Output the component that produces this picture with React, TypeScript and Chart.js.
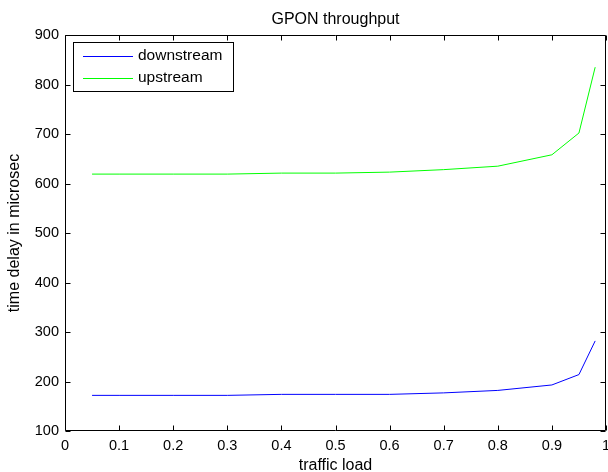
import React, { useEffect, useRef } from "react";
import { Chart, registerables } from "chart.js";

Chart.register(...registerables);

const trafficLoad = [0.05, 0.1, 0.2, 0.3, 0.4, 0.5, 0.6, 0.7, 0.8, 0.9, 0.95, 0.98];
const downstream = [172, 172, 172, 172, 174, 174, 174, 177, 182, 193, 214, 282];
const upstream = [619, 619, 619, 619, 621, 621, 623, 628, 635, 658, 702, 835];
const xTickValues = [0, 0.1, 0.2, 0.3, 0.4, 0.5, 0.6, 0.7, 0.8, 0.9, 1];
const xTickLabels = ["0", "0.1", "0.2", "0.3", "0.4", "0.5", "0.6", "0.7", "0.8", "0.9", "1"];
const yTickValues = [100, 200, 300, 400, 500, 600, 700, 800, 900];
const yTickLabels = ["100", "200", "300", "400", "500", "600", "700", "800", "900"];

const FONT = "'Liberation Sans', Arial, Helvetica, sans-serif";

const matlabAxes = {
  id: "matlabAxes",
  afterDraw(chart: any) {
    const ctx = chart.ctx;
    const a = chart.chartArea;
    const xs = chart.scales.x;
    const ys = chart.scales.y;
    const L = Math.round(a.left) + 0.5;
    const R = Math.round(a.right) - 0.5;
    const T = Math.round(a.top) + 0.5;
    const B = Math.round(a.bottom) - 0.5;
    ctx.save();
    ctx.strokeStyle = "#000";
    ctx.lineWidth = 1;
    ctx.beginPath();
    ctx.rect(L, T, R - L, B - T);
    const tl = 5;
    xTickValues.forEach((v) => {
      const px = Math.round(xs.getPixelForValue(v)) + 0.5;
      ctx.moveTo(px, B);
      ctx.lineTo(px, B - tl);
      ctx.moveTo(px, T);
      ctx.lineTo(px, T + tl);
    });
    yTickValues.forEach((v) => {
      const py = Math.round(ys.getPixelForValue(v)) + 0.5;
      ctx.moveTo(L, py);
      ctx.lineTo(L + tl, py);
      ctx.moveTo(R, py);
      ctx.lineTo(R - tl, py);
    });
    ctx.stroke();

    // Title centered over plot area
    ctx.fillStyle = "#000";
    ctx.font = `16px ${FONT}`;
    ctx.textAlign = "center";
    ctx.textBaseline = "middle";
    ctx.fillText("GPON throughput", (a.left + a.right) / 2, 20);

    // Legend
    const lx = 73.5, ly = 42.5, lw = 160, lh = 49;
    ctx.fillStyle = "#fff";
    ctx.fillRect(lx, ly, lw, lh);
    ctx.strokeStyle = "#000";
    ctx.strokeRect(lx, ly, lw, lh);
    ctx.font = `15.5px ${FONT}`;
    const rows = [56, 78];
    chart.data.datasets.forEach((ds: any, i: number) => {
      const y = rows[i] + 0.5;
      ctx.strokeStyle = ds.borderColor;
      ctx.beginPath();
      ctx.moveTo(83, y);
      ctx.lineTo(133, y);
      ctx.stroke();
      ctx.fillStyle = "#000";
      ctx.textAlign = "left";
      ctx.textBaseline = "middle";
      ctx.fillText(ds.label, 138, rows[i]);
    });
    ctx.restore();
  },
};

export default function App() {
  const ref = useRef<HTMLCanvasElement>(null);
  useEffect(() => {
    document.body.style.margin = "0";
    const ctx = ref.current!.getContext("2d")!;
    const chart = new Chart(ctx, {
      type: "line",
      data: {
        datasets: [
          {
            label: "downstream",
            data: trafficLoad.map((x, i) => ({ x, y: downstream[i] })),
            borderColor: "#0000ff",
            borderWidth: 1,
            pointRadius: 0,
            tension: 0,
          },
          {
            label: "upstream",
            data: trafficLoad.map((x, i) => ({ x, y: upstream[i] })),
            borderColor: "#00ff00",
            borderWidth: 1,
            pointRadius: 0,
            tension: 0,
          },
        ],
      },
      options: {
        responsive: false,
        animation: false,
        layout: { padding: { top: 35, right: 2, bottom: 0, left: 0 } },
        plugins: { legend: { display: false }, title: { display: false }, tooltip: { enabled: false } },
        scales: {
          x: {
            type: "linear",
            min: 0,
            max: 1,
            afterBuildTicks: (s: any) => {
              s.ticks = xTickValues.map((v) => ({ value: v }));
            },
            afterFit: (s: any) => {
              s.height = 41;
              s.paddingLeft = 0;
              s.paddingRight = 0;
            },
            grid: { display: false, drawTicks: false },
            border: { display: false },
            ticks: {
              color: "#000",
              font: { family: FONT, size: 14.5 },
              padding: 6,
              maxRotation: 0,
              autoSkip: false,
              callback: (_v: any, i: number) => xTickLabels[i],
            },
            title: {
              display: true,
              text: "traffic load",
              color: "#000",
              font: { family: FONT, size: 16, lineHeight: 1 },
              padding: { top: 0, bottom: -2 },
            },
          },
          y: {
            type: "linear",
            min: 100,
            max: 900,
            afterBuildTicks: (s: any) => {
              s.ticks = yTickValues.map((v) => ({ value: v }));
            },
            afterFit: (s: any) => {
              s.width = 65;
              s.paddingTop = 0;
              s.paddingBottom = 0;
            },
            grid: { display: false, drawTicks: false },
            border: { display: false },
            ticks: {
              color: "#000",
              font: { family: FONT, size: 14.5 },
              padding: 6,
              autoSkip: false,
              callback: (_v: any, i: number) => yTickLabels[i],
            },
            title: {
              display: true,
              text: "time delay in microsec",
              color: "#000",
              font: { family: FONT, size: 16, lineHeight: 1.2 },
              padding: { top: 5, bottom: 0 },
            },
          },
        },
      },
      plugins: [matlabAxes],
    });
    return () => chart.destroy();
  }, []);
  return (
    <div style={{ width: 608, height: 472, position: "relative" }}>
      <canvas ref={ref} width={608} height={472} style={{ display: "block" }} />
    </div>
  );
}
